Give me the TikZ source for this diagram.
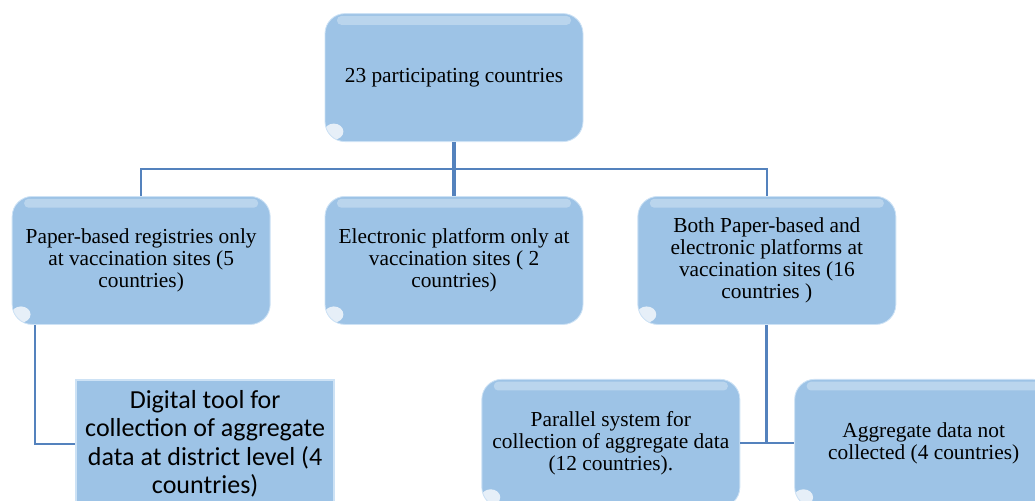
\documentclass[tikz,border=0pt]{standalone}
\usepackage{fontspec}
\setmainfont{Liberation Serif}
\newfontfamily\calibri{Carlito}
\usepackage{xcolor}
\usepackage{tikz}
\usetikzlibrary{positioning}

\definecolor{azulcaixa}{RGB}{157,195,230}
\definecolor{azulclaro}{RGB}{205,226,245}
\definecolor{azullinha}{RGB}{84,130,189}

\begin{document}
\begin{tikzpicture}[
    every node/.style={minimum width=6.45cm, minimum height=3.2cm, inner sep=2pt,
        align=center, font=\fontsize{15.2}{15.8}\selectfont},
    node distance=1.35cm
]
\tikzset{
    caixa/.style={fill=azulcaixa, draw=azulclaro, line width=0.6pt, rounded corners=0.5cm,
        path picture={
            \fill[white, opacity=.3, rounded corners=3pt]
                ([shift={(0.3cm,-0.06cm)}]path picture bounding box.north west) rectangle
                ([shift={(-0.3cm,-0.28cm)}]path picture bounding box.north east);
            \fill[white, opacity=.75]
                ([shift={(0.22cm,0.25cm)}]path picture bounding box.south west)
                ellipse (0.24cm and 0.2cm);
        }},
    quadrado/.style={fill=azulcaixa, draw=azulclaro, line width=1.5pt,
        font=\calibri\fontsize{18.5}{20.2}\selectfont},
    ligacao/.style={draw=azullinha, line width=1.4pt},
    tronco/.style={draw=azullinha, line width=2.2pt}
}
\useasboundingbox (0,0) rectangle (25.875,-12.5);
\clip (0,0) rectangle (25.875,-12.5);

% nivel 1
\node[caixa] (total) at (11.35,-1.94) {23 participating countries};

% nivel 2
\node[caixa, below=of total] (eletronico) {Electronic platform only at\\vaccination sites ( 2\\countries)};
\node[caixa, left=of eletronico] (papel) {Paper-based registries only\\at vaccination sites (5\\countries)};
\node[caixa, right=of eletronico] (ambos) {Both Paper-based and\\electronic platforms at\\vaccination sites (16\\countries )};

% nivel 3
\node[quadrado, below=of papel, xshift=1.6cm] (digital) {Digital tool for\\collection of aggregate\\data at district level (4\\countries)};
\node[caixa, below=of ambos, xshift=-3.9cm] (paralelo) {Parallel system for\\collection of aggregate data\\(12 countries).};
\node[caixa, right=of paralelo] (naocoletado) {Aggregate data not\\collected (4 countries)};

% ligacoes
\draw[tronco] (total.south) -- (eletronico.north);
\draw[ligacao] (papel.north) |- ([yshift=-0.67cm]total.south) -| (ambos.north);
\draw[ligacao] ([xshift=-1cm]digital.west |- papel.south) |- (digital.west);
\draw[tronco] (ambos.south) -- (ambos.south |- paralelo.east);
\draw[ligacao] (paralelo.east) -- (naocoletado.west);
\end{tikzpicture}
\end{document}
